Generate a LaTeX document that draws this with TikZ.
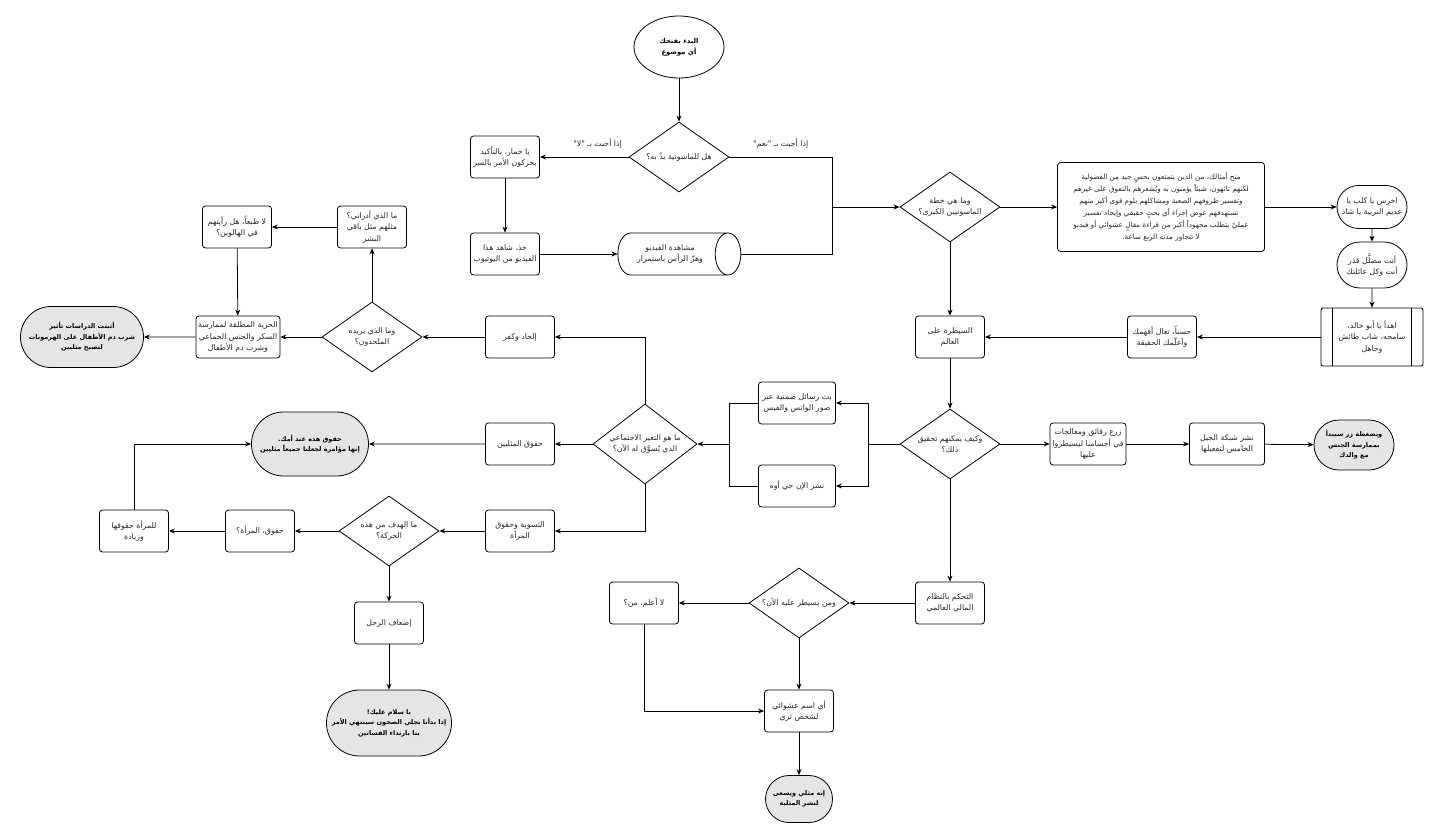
\documentclass[tikz,border=0pt]{standalone}
\usepackage{fontspec}
\newfontfamily\arabicfont[Script=Arabic]{DejaVu Sans}
\usepackage{tikz}
\usetikzlibrary{shapes.geometric,shapes.misc,arrows.meta}
\TeXXeTstate=1
\newcommand{\rl}[1]{\beginR #1\endR}

\begin{document}
\begin{tikzpicture}[x=1pt, y=-1pt, line width=.8pt,
		every node/.style={font=\arabicfont\fontsize{7.8}{11.5}\selectfont, align=center, text=black!85},
		box/.style={draw, rounded corners=3pt, minimum width=69pt, minimum height=42pt, inner sep=1pt},
		quest/.style={draw, diamond, aspect=1.4, minimum width=100pt, minimum height=70pt, inner sep=0pt},
		pill/.style={draw, rounded rectangle, minimum width=72pt, minimum height=43pt, inner sep=1pt},
		stop/.style={pill, fill=black!10, text=black, font=\arabicfont\bfseries\fontsize{6.5}{10.5}\selectfont},
		arr/.style={-{Stealth[length=6pt, width=5pt]}}]
				\useasboundingbox (0,0) rectangle (1440,840);
				\node[draw, ellipse, minimum width=90pt, minimum height=62pt, text=black, font=\arabicfont\bfseries\fontsize{6.8}{10.5}\selectfont] (start) at (679,47) {\rl{البدء بفتحك}\\\rl{أي موضوع}};
				\node[quest] (q1) at (679,157) {\rl{هل للماسونية يدٌ به؟}};
				\node[box] (donkey) at (505,157) {\rl{يا حمار، بالتأكيد}\\\rl{يحركون الأمر بالسر}};
				\node[box] (watch) at (505,254) {\rl{خذ، شاهد هذا}\\\rl{الفيديو من اليوتيوب}};
				\node[draw, cylinder, shape aspect=1.1, minimum width=42pt, minimum height=123pt, inner sep=2pt] (nod) at (670,254) {\rl{مشاهدة الفيديو}\\\rl{وهزّ الرأس باستمرار}};
				\coordinate (merge) at (832,207);
				\node[quest] (q2) at (950,207) {\rl{وما هي خطة}\\\rl{الماسونيين الكبرى؟}};
				\node[box, minimum width=207pt, minimum height=89pt, font=\arabicfont\fontsize{7.2}{12}\selectfont] (lecture) at (1161,207) {\rl{منح أمثالك، من الذين يتمتعون بحسٍ جيد من الفضولية}\\\rl{لكنهم تائهون، شيئاً يؤمنون به ويُشعرهم بالتفوق على غيرهم}\\\rl{وتفسير ظروفهم الصعبة ومشاكلهم بلوم قوى أكبر منهم}\\\rl{تستهدفهم عوض إجراء أي بحثٍ حقيقي وإيجاد تفسير}\\\rl{عمليّ يتطلب مجهوداً أكبر من قراءة مقالٍ عشوائي أو فيديو}\\\rl{لا تتجاوز مدته الربع ساعة.}};
				\node[pill] (shut) at (1372,207) {\rl{اخرس يا كلب يا}\\\rl{عديم التربية يا شاذ}};
				\node[pill, minimum height=46pt] (dirty) at (1372,265) {\rl{أنت مضلَّل قذر}\\\rl{أنت وكل عائلتك}};
				\node[box, minimum width=102pt, minimum height=58pt, rounded corners=2pt] (calm) at (1372,337) {\rl{اهدأ يا أبو خالد،}\\\rl{سامحه، شاب طائش}\\\rl{وجاهل}};
				\draw ([xshift=12pt]calm.north west) -- ([xshift=12pt]calm.south west);
				\draw ([xshift=-12pt]calm.north east) -- ([xshift=-12pt]calm.south east);
				\node[box] (teach) at (1162,337) {\rl{حسناً، تعال أفهمك}\\\rl{وأعلّمك الحقيقة}};
				\node[box] (world) at (950,337) {\rl{السيطرة على}\\\rl{العالم}};
				\node[quest] (q3) at (950,444) {\rl{وكيف يمكنهم تحقيق}\\\rl{ذلك؟}};
				\node[box, minimum width=76pt] (chips) at (1088,444) {\rl{زرع رقائق ومعالجات}\\\rl{في أجسامنا ليسيطروا}\\\rl{عليها}};
				\node[box, minimum width=75pt] (fiveg) at (1227,444) {\rl{نشر شبكة الجيل}\\\rl{الخامس لتفعيلها}};
				\node[stop, minimum width=82pt, minimum height=50pt] (dad) at (1354,445) {\rl{وبضغطة زر سيبدأ}\\\rl{بممارسة الجنس}\\\rl{مع والدك}};
				\coordinate (split) at (868,444);
				\node[box, minimum width=77pt] (msg) at (797,403) {\rl{بث رسائل ضمنية عبر}\\\rl{صور الواتس والفيس}};
				\node[box, minimum width=77pt] (ngo) at (797,486) {\rl{نشر الإن جي أوه}};
				\coordinate (join) at (729,444);
				\node[quest, minimum width=104pt, minimum height=80pt, aspect=1.3] (q4) at (645,444) {\rl{ما هو التغير الاجتماعي}\\\rl{الذي يُسوَّق له الآن؟}};
				\node[box] (atheism) at (520,337) {\rl{إلحاد وكفر}};
				\node[box] (gays) at (520,444) {\rl{حقوق المثليين}};
				\node[box] (women) at (520,531) {\rl{التسوية وحقوق}\\\rl{المرأة}};
				\node[quest] (q5) at (372,337) {\rl{وما الذي يريده}\\\rl{الملحدون؟}};
				\node[box] (dunno) at (372,227) {\rl{ما الذي أدراني؟}\\\rl{مثلهم مثل باقي}\\\rl{البشر}};
				\node[box] (halloween) at (237,227) {\rl{لا طبعاً، هل رأيتهم}\\\rl{في الهالوين؟}};
				\node[box, minimum width=84pt] (freedom) at (238,337) {\rl{الحرية المطلقة لممارسة}\\\rl{السكر والجنس الجماعي}\\\rl{وشرب دم الأطفال}};
				\node[stop, minimum width=125pt, minimum height=61pt] (blood) at (82,337) {\rl{أثبتت الدراسات تأثير}\\\rl{شرب دم الأطفال على الهرمونات}\\\rl{لتصبح مثليين}};
				\node[stop, minimum width=119pt, minimum height=64pt] (mom) at (310,444) {\rl{حقوق هذه عند أمك.}\\\rl{إنها مؤامرة لجعلنا جميعاً مثليين}};
				\node[quest] (q6) at (389,531) {\rl{ما الهدف من هذه}\\\rl{الحركة؟}};
				\node[box] (rights) at (260,531) {\rl{حقوق، المرأة؟}};
				\node[box] (more) at (134,531) {\rl{للمرأة حقوقها}\\\rl{وزيادة}};
				\node[box] (weaken) at (389,623) {\rl{إضعاف الرجل}};
				\node[stop, minimum width=127pt, minimum height=66pt] (dishes) at (389,723) {\rl{يا سلام عليك!}\\\rl{إذا بدأنا بجلي الصحون سينتهي الأمر}\\\rl{بنا بارتداء الفساتين}};
				\node[box] (finance) at (950,603) {\rl{التحكم بالنظام}\\\rl{المالي العالمي}};
				\node[quest] (q7) at (799,603) {\rl{ومن يسيطر عليه الآن؟}};
				\node[box] (who) at (644,603) {\rl{لا أعلم، من؟}};
				\node[box] (rich) at (799,711) {\rl{أي اسم عشوائي}\\\rl{لشخص ثري}};
				\node[stop, minimum width=69pt, minimum height=47pt] (gay) at (799,799) {\rl{إنه مثلي ويسعى}\\\rl{لنشر المثلية}};
				\draw[arr] (start) -- (q1);
				\draw[arr] (q1) -- node[pos=.35, above=5pt]{\rl{إذا أجبت بـ "لا"}} (donkey);
				\draw (q1) -| node[pos=.25, above=5pt]{\rl{إذا أجبت بـ "نعم"}} (merge);
				\draw[arr] (donkey) -- (watch);
				\draw[arr] (watch) -- (nod);
				\draw (nod) -| (merge);
				\draw[arr] (merge) -- (q2);
				\draw[arr] (q2) -- (lecture);
				\draw[arr] (lecture) -- (shut);
				\draw[arr] (shut) -- (dirty);
				\draw[arr] (dirty) -- (calm);
				\draw[arr] (calm) -- (teach);
				\draw[arr] (teach) -- (world);
				\draw[arr] (q2) -- (world);
				\draw[arr] (world) -- (q3);
				\draw[arr] (q3) -- (chips);
				\draw[arr] (chips) -- (fiveg);
				\draw[arr] (fiveg) -- (dad);
				\draw[arr] (q3) -- (finance);
				\draw (q3) -- (split);
				\draw[arr] (split) |- (msg);
				\draw[arr] (split) |- (ngo);
				\draw (msg) -| (join);
				\draw (ngo) -| (join);
				\draw[arr] (join) -- (q4);
				\draw[arr] (q4) |- (atheism);
				\draw[arr] (q4) -- (gays);
				\draw[arr] (q4) |- (women);
				\draw[arr] (atheism) -- (q5);
				\draw[arr] (q5) -- (dunno);
				\draw[arr] (dunno) -- (halloween);
				\draw[arr] (halloween) -- (freedom);
				\draw[arr] (q5) -- (freedom);
				\draw[arr] (freedom) -- (blood);
				\draw[arr] (gays) -- (mom);
				\draw[arr] (women) -- (q6);
				\draw[arr] (q6) -- (rights);
				\draw[arr] (rights) -- (more);
				\draw[arr] (more) |- (mom);
				\draw[arr] (q6) -- (weaken);
				\draw[arr] (weaken) -- (dishes);
				\draw[arr] (finance) -- (q7);
				\draw[arr] (q7) -- (who);
				\draw[arr] (q7) -- (rich);
				\draw[arr] (who) |- (rich);
				\draw[arr] (rich) -- (gay);
			\end{tikzpicture}
\end{document}
